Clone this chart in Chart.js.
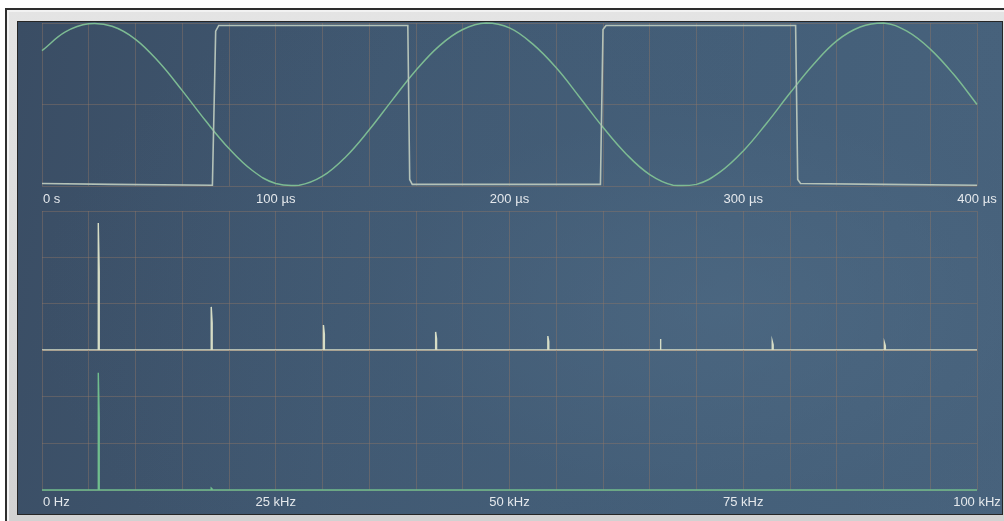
<!DOCTYPE html>
<html>
<head>
<meta charset="utf-8">
<script src="https://cdn.jsdelivr.net/npm/chart.js@4/dist/chart.umd.min.js"></script>
<style>
  html, body { margin: 0; padding: 0; background: #ffffff; width: 1004px; height: 521px; overflow: hidden; }
  #frame {
    position: absolute; left: 5px; top: 8px; width: 999px; height: 513px; box-sizing: border-box;
    background: linear-gradient(#e4e4e4, #d2d2d2);
    border-top: 2px solid #2e2e2e; border-left: 2px solid #2e2e2e;
    box-shadow: inset 2px 2px 0 #f2f2f2;
  }
  #panel {
    position: absolute; left: 17px; top: 21px; width: 986px; height: 494px; box-sizing: border-box;
    border: 1px solid #262626;
    background:
      radial-gradient(ellipse 70% 80% at 72% 58%, rgba(80,108,134,0.55) 0%, rgba(70,96,122,0.25) 50%, rgba(0,0,0,0) 100%),
      linear-gradient(100deg, #3a4d64 0%, #405871 35%, #445f79 70%, #48637d 100%);
  }
  canvas.plot { position: absolute; }
</style>
</head>
<body>
<div id="frame"></div>
<div id="panel"></div>
<canvas class="plot" id="timePlot" style="left:18px;top:22px;width:983px;height:190px"></canvas>
<canvas class="plot" id="spectrumA" style="left:18px;top:200px;width:983px;height:160px"></canvas>
<canvas class="plot" id="spectrumB" style="left:18px;top:340px;width:983px;height:175px"></canvas>
<script>
// Time trace: sine samples every 10 µs
const sineTimes = [0,10,20,30,40,50,60,70,80,90,100,110,120,130,140,150,160,170,180,190,200,
                   210,220,230,240,250,260,270,280,290,300,310,320,330,340,350,360,370,380,390,400];
const sineValues = [0.66,0.89,0.99,0.96,0.80,0.52,0.17,-0.20,-0.54,-0.81,-0.97,-0.99,-0.88,-0.64,-0.31,0.06,0.42,0.72,0.92,1.00,0.94,
                    0.74,0.45,0.09,-0.28,-0.61,-0.86,-0.99,-0.98,-0.83,-0.57,-0.23,0.14,0.49,0.78,0.95,1.00,0.90,0.68,0.37,0.00];

// Time trace: square wave corners
const squareTimes  = [0, 30, 72.9, 74.3, 75.6, 120, 156.5, 157.3, 158.4, 200, 238.9, 240.0, 241.3, 290, 322.4, 323.3, 324.5, 360, 400];
const squareLevels = [-0.97, -0.98, -0.99, 0.90, 0.97, 0.97, 0.97, -0.92, -0.98, -0.98, -0.98, 0.92, 0.97, 0.97, 0.97, -0.92, -0.97, -0.98, -0.99];

// Spectrum of the square wave: odd harmonics
const harmonicFreqs   = [6.02, 18.1, 30.1, 42.1, 54.1, 66.1, 78.1, 90.1];
const harmonicPeaks   = [2.74, 0.93, 0.54, 0.39, 0.30, 0.24, 0.19, 0.16];
const harmonicSides   = [1.70, 0.59, 0.34, 0.24, 0.18, 0.14, 0.11, 0.09];

// Spectrum of the sine wave
const sineSpecFreqs = [6.02, 18.1];
const sineSpecPeaks = [2.51, 0.04];
const sineSpecSides = [1.56, 0.02];

// Axis tick labels
const timeTickValues = [0, 100, 200, 300, 400];
const timeTickLabels = ['0 s', '100 µs', '200 µs', '300 µs', '400 µs'];
const freqTickValues = [0, 25, 50, 75, 100];
const freqTickLabels = ['0 Hz', '25 kHz', '50 kHz', '75 kHz', '100 kHz'];

const GRID = 'rgba(145,118,102,0.42)';
const LABEL_FONT = "13px 'Liberation Sans', Arial, sans-serif";

function spikeSeries(freqs, peaks, sides, maxF) {
  const pts = [{x: 0, y: 0}];
  freqs.forEach((f, i) => {
    pts.push({x: f, y: 0}, {x: f, y: peaks[i]}, {x: f + 0.1, y: sides[i]}, {x: f + 0.1, y: 0});
  });
  pts.push({x: maxF, y: 0});
  return pts;
}

function tickLabelPlugin(values, labels, offset) {
  return {
    id: 'tickLabels',
    afterDraw(chart) {
      const ctx = chart.ctx, xs = chart.scales.x;
      ctx.save();
      ctx.font = LABEL_FONT;
      ctx.fillStyle = '#e4e8ec';
      ctx.textBaseline = 'middle';
      values.forEach((v, i) => {
        const px = xs.getPixelForValue(v);
        ctx.textAlign = i === 0 ? 'left' : 'center';
        ctx.fillText(labels[i], i === 0 ? px + 1 : px, chart.chartArea.bottom + offset);
      });
      ctx.restore();
    }
  };
}

function axes(xMax, xStep, yMin, yMax, yStep) {
  const border = {display: false};
  const grid = {color: GRID, lineWidth: 1, drawTicks: false};
  return {
    x: {type: 'linear', min: 0, max: xMax, ticks: {display: false, stepSize: xStep}, border, grid},
    y: {type: 'linear', min: yMin, max: yMax, ticks: {display: false, stepSize: yStep}, border, grid}
  };
}

function baseOptions(padding, scales) {
  return {
    responsive: false,
    animation: false,
    devicePixelRatio: 1,
    layout: {padding},
    plugins: {legend: {display: false}, tooltip: {enabled: false}},
    elements: {point: {radius: 0}},
    scales
  };
}

function sizeCanvas(id) {
  const c = document.getElementById(id);
  c.width = parseInt(c.style.width); c.height = parseInt(c.style.height);
  return c;
}

// Top: time-domain traces
new Chart(sizeCanvas('timePlot'), {
  type: 'line',
  data: {
    datasets: [
      {data: squareTimes.map((t, i) => ({x: t, y: squareLevels[i]})), borderColor: '#b4c2b8', borderWidth: 1.6, tension: 0, clip: false},
      {data: sineTimes.map((t, i) => ({x: t, y: sineValues[i]})), borderColor: '#7dbb93', borderWidth: 1.5, tension: 0.4, clip: false}
    ]
  },
  options: baseOptions({left: 24, right: 24, top: 1, bottom: 26}, axes(400, 20, -1, 1, 1)),
  plugins: [tickLabelPlugin(timeTickValues, timeTickLabels, 13.5)]
});

// Middle: spectrum of the square wave
new Chart(sizeCanvas('spectrumA'), {
  type: 'line',
  data: {
    datasets: [
      {data: spikeSeries(harmonicFreqs, harmonicPeaks, harmonicSides, 100), borderColor: '#d6ddc6', borderWidth: 1.4, tension: 0, clip: false}
    ]
  },
  options: baseOptions({left: 24, right: 24, top: 11, bottom: 10}, axes(100, 5, 0, 3, 1))
});

// Bottom: spectrum of the sine wave
new Chart(sizeCanvas('spectrumB'), {
  type: 'line',
  data: {
    datasets: [
      {data: spikeSeries(sineSpecFreqs, sineSpecPeaks, sineSpecSides, 100), borderColor: '#70bd8d', borderWidth: 1.4, tension: 0, clip: false}
    ]
  },
  options: baseOptions({left: 24, right: 24, top: 10, bottom: 25}, axes(100, 5, 0, 3, 1)),
  plugins: [tickLabelPlugin(freqTickValues, freqTickLabels, 12.5)]
});
</script>
</body>
</html>
